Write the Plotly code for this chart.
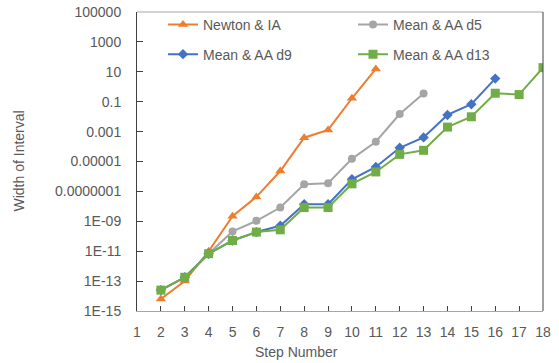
import plotly.graph_objects as go

# ---- data ----
newton_x = [2, 3, 4, 5, 6, 7, 8, 9, 10, 11]
newton_y = [6.3e-15, 1.0e-13, 1.0e-11, 2.2e-9, 4.3e-8, 2.3e-6, 3.9e-4, 1.3e-3, 0.17, 15.5]

d5_x = [2, 3, 4, 5, 6, 7, 8, 9, 10, 11, 12, 13]
d5_y = [2.5e-14, 1.8e-13, 6.8e-12, 2.1e-10, 1.07e-9, 8.3e-9, 3.0e-7, 3.5e-7, 1.5e-5, 2.1e-4, 0.015, 0.35]

d9_x = [2, 3, 4, 5, 6, 7, 8, 9, 10, 11, 12, 13, 14, 15, 16]
d9_y = [2.5e-14, 1.8e-13, 6.8e-12, 5.2e-11, 1.9e-10, 5.0e-10, 1.4e-8, 1.4e-8, 6.5e-7,
        4.3e-6, 8.3e-5, 4.1e-4, 0.013, 0.068, 3.5]

d13_x = [2, 3, 4, 5, 6, 7, 8, 9, 10, 11, 12, 13, 14, 15, 16, 17, 18]
d13_y = [2.5e-14, 1.8e-13, 6.8e-12, 5.2e-11, 1.9e-10, 2.7e-10, 8.3e-9, 8.3e-9, 3.2e-7,
         2.0e-6, 3.0e-5, 5.6e-5, 2.0e-3, 9.8e-3, 0.37, 0.30, 19]

series_names = ["Newton & IA", "Mean & AA d5", "Mean & AA d9", "Mean & AA d13"]

y_tickvals = [1e-15, 1e-13, 1e-11, 1e-9, 1e-7, 1e-5, 1e-3, 1e-1, 10, 1000, 100000]
y_ticktext = ["1E-15", "1E-13", "1E-11", "1E-09", "0.0000001", "0.00001", "0.001",
              "0.1", "10", "1000", "100000"]
x_tickvals = list(range(1, 19))
x_ticktext = [str(v) for v in x_tickvals]

FONT = "Liberation Sans"
TXT = "#595959"

fig = go.Figure()
styles = [
    (newton_x, newton_y, "#ED7D31", "triangle-up", 9, "legend"),
    (d5_x, d5_y, "#A5A5A5", "circle", 8, "legend2"),
    (d9_x, d9_y, "#4472C4", "diamond", 8, "legend3"),
    (d13_x, d13_y, "#70AD47", "square", 9, "legend4"),
]
for (xs, ys, col, sym, size, lg), name in zip(styles, series_names):
    fig.add_trace(go.Scatter(
        x=xs, y=ys, name=name, mode="lines+markers",
        line=dict(color=col, width=2),
        marker=dict(symbol=sym, size=size, color=col),
        legend=lg,
    ))

def leg(xpx, ypx):
    return dict(x=(xpx - 137) / 406, y=1 - (ypx - 9) / 302, xanchor="left", yanchor="middle",
                bgcolor="rgba(0,0,0,0)", font=dict(family=FONT, size=14, color=TXT),
                itemwidth=30)

fig.update_layout(
    width=559, height=363,
    margin=dict(l=137, r=16, t=9, b=52),
    paper_bgcolor="white", plot_bgcolor="white",
    font=dict(family=FONT, size=14, color=TXT),
    showlegend=True,
    legend=leg(163, 22),
    legend2=leg(353, 22),
    legend3=leg(163, 52),
    legend4=leg(353, 52),
    xaxis=dict(range=[1, 18], tickvals=x_tickvals, ticktext=x_ticktext, automargin=False,
               showgrid=False, zeroline=False, showline=True, linecolor="#A6A6A6", linewidth=1,
               ticks="inside", ticklen=5, tickcolor="#404040",
               tickfont=dict(family=FONT, size=14, color=TXT), ticklabelstandoff=8),
    yaxis=dict(type="log", range=[-15, 5], tickvals=y_tickvals, ticktext=y_ticktext,
               automargin=False,
               showgrid=False, zeroline=False, showline=True, linecolor="#404040", linewidth=1,
               ticks="inside", ticklen=6, tickcolor="#404040",
               tickfont=dict(family=FONT, size=14, color=TXT), ticklabelstandoff=12),
    shapes=[
        dict(type="line", xref="paper", yref="paper", x0=0, x1=1, y0=1, y1=1,
             line=dict(color="#A6A6A6", width=1)),
        dict(type="line", xref="paper", yref="paper", x0=1, x1=1, y0=0, y1=1,
             line=dict(color="#404040", width=1)),
    ],
    annotations=[
        dict(text="Width of Interval", xref="paper", yref="paper", x=(18 - 137) / 406, y=0.5,
             xanchor="center", yanchor="middle", textangle=-90, showarrow=False,
             font=dict(family=FONT, size=14, color=TXT)),
        dict(text="Step Number", xref="paper", yref="paper", x=(296 - 137) / 406,
             y=-(352 - 311) / 302, xanchor="center", yanchor="middle", showarrow=False,
             font=dict(family=FONT, size=14, color=TXT)),
    ],
)

fig.write_html("out.html", config={"displayModeBar": False},
               post_script="document.body.style.margin='0';")
